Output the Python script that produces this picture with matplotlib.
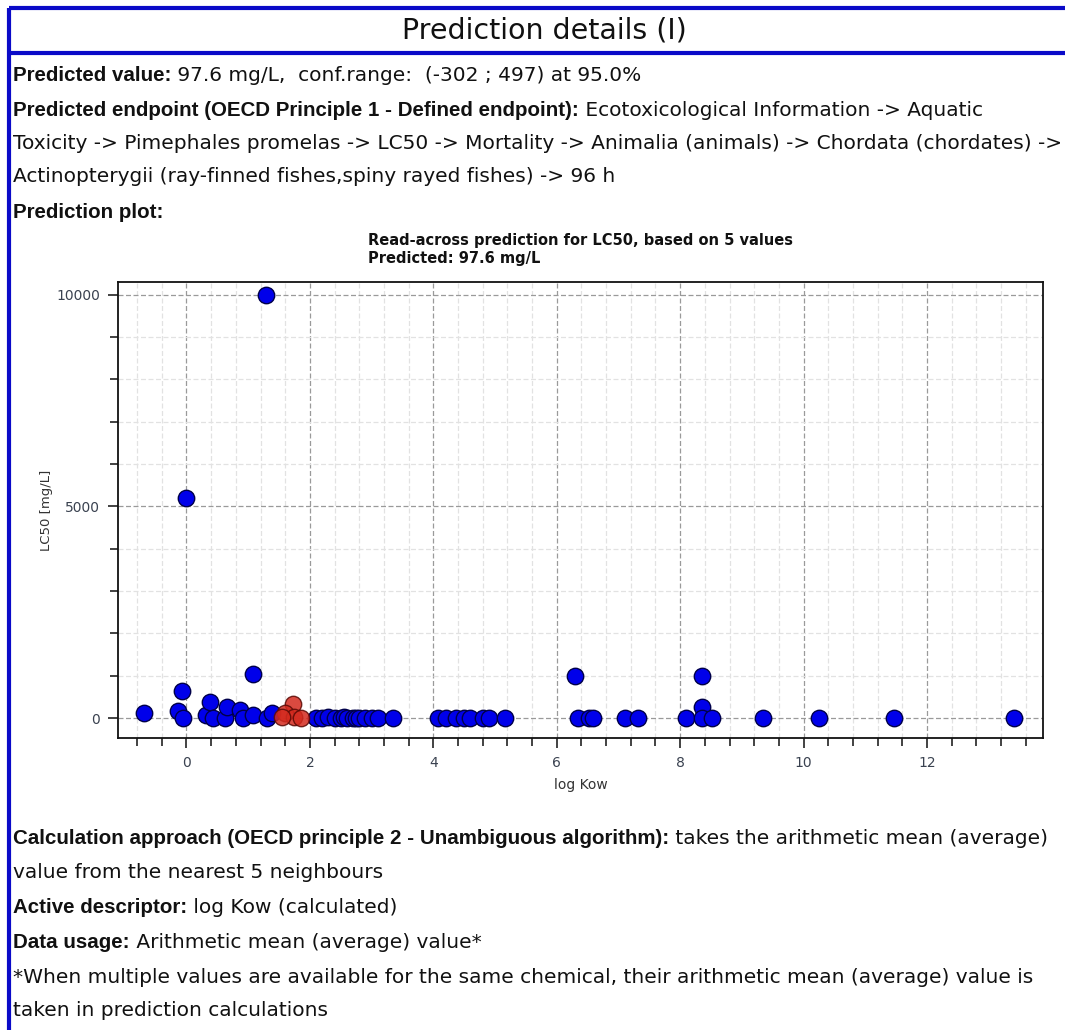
import matplotlib
matplotlib.use("Agg")
import matplotlib.pyplot as plt
from matplotlib.ticker import MultipleLocator

# ---- data: log Kow vs LC50 [mg/L] ----
blue_logkow = [-0.69, -0.14, -0.06, -0.08, 0.0, 0.31, 0.38, 0.43, 0.62, 0.65,
               0.86, 0.92, 1.07, 1.08, 1.29, 1.30, 1.38,
               2.10, 2.20, 2.30, 2.40, 2.50, 2.55, 2.60, 2.70, 2.75, 2.80, 2.90,
               3.00, 3.10, 3.35,
               4.08, 4.20, 4.37, 4.50, 4.59, 4.80, 4.90, 5.16,
               6.29, 6.35, 6.53, 6.59, 7.10, 7.32, 8.09, 8.36, 8.36, 8.36, 8.51,
               9.35, 10.25, 11.47, 13.41]
blue_lc50 = [111, 165, 0, 645, 5200, 70, 385, 0, 0, 267,
             190, 0, 1033, 70, 10000, 0, 125,
             10, 5, 20, 8, 3, 15, 6, 2, 12, 4, 9,
             3, 6, 5,
             4, 2, 6, 3, 5, 2, 4, 3,
             993, 2, 3, 1, 2, 1, 2, 993, 267, 5, 1,
             1, 1, 1, 1]

# nearest neighbours used for the read-across (mean = 97.6 mg/L)
red_logkow = [1.73, 1.60, 1.75, 1.55, 1.85]
red_lc50 = [330, 110, 25, 15, 8]

W, H = 1065, 1030
fig = plt.figure(figsize=(W / 100, H / 100), dpi=100)
fig.patch.set_facecolor("white")

page = fig.add_axes([0, 0, 1, 1])
page.set_xlim(0, W)
page.set_ylim(H, 0)
page.axis("off")

FONT = "DejaVu Sans"
BOLD_FONT = "Liberation Sans"
BLUE = "#0a0ac8"
INK = "#111111"

# page frame
page.plot([9, W], [8, 8], color=BLUE, lw=3, solid_capstyle="butt")
page.plot([9, W], [53, 53], color=BLUE, lw=3, solid_capstyle="butt")
page.plot([9, 9], [8, H], color=BLUE, lw=3, solid_capstyle="butt")
page.text(544, 31, "Prediction details (I)", ha="center", va="center",
          fontsize=20.5, family=FONT, color=INK)

fig.canvas.draw()
renderer = fig.canvas.get_renderer()


def rich_line(x, y, parts):
    """Draw a line of text made of (string, bold) parts on a shared baseline."""
    for s, bold in parts:
        if bold:
            t = page.text(x, y, s, ha="left", va="baseline", fontsize=14.8,
                          family=BOLD_FONT, fontweight="bold", color=INK)
        else:
            t = page.text(x, y, s, ha="left", va="baseline", fontsize=14.5,
                          family=FONT, color=INK)
        bb = t.get_window_extent(renderer)
        x = x + bb.width


rich_line(13, 81, [("Predicted value:", True),
                   (" 97.6 mg/L,  conf.range:  (-302 ; 497) at 95.0%", False)])
rich_line(13, 116, [("Predicted endpoint (OECD Principle 1 - Defined endpoint):", True),
                    (" Ecotoxicological Information -> Aquatic", False)])
rich_line(13, 149, [("Toxicity -> Pimephales promelas -> LC50 -> Mortality -> Animalia (animals) -> Chordata (chordates) ->", False)])
rich_line(13, 182, [("Actinopterygii (ray-finned fishes,spiny rayed fishes) -> 96 h", False)])
rich_line(13, 218, [("Prediction plot:", True)])

rich_line(13, 844, [("Calculation approach (OECD principle 2 - Unambiguous algorithm):", True),
                    (" takes the arithmetic mean (average)", False)])
rich_line(13, 878, [("value from the nearest 5 neighbours", False)])
rich_line(13, 913, [("Active descriptor:", True), (" log Kow (calculated)", False)])
rich_line(13, 948, [("Data usage:", True), (" Arithmetic mean (average) value*", False)])
rich_line(13, 983, [("*When multiple values are available for the same chemical, their arithmetic mean (average) value is", False)])
rich_line(13, 1016, [("taken in prediction calculations", False)])

# chart title
page.text(368, 245, "Read-across prediction for LC50, based on 5 values",
          ha="left", va="baseline", fontsize=10.5, fontweight="bold", family=FONT,
          color=INK)
page.text(368, 263, "Predicted: 97.6 mg/L", ha="left", va="baseline",
          fontsize=10.5, fontweight="bold", family=FONT, color=INK)

# ---- scatter plot ----
ax = fig.add_axes([118 / W, 1 - 738 / H, (1043 - 118) / W, (738 - 282) / H])
ax.set_xlim(-1.11, 13.88)
ax.set_ylim(-470, 10300)

ax.xaxis.set_major_locator(MultipleLocator(2))
ax.xaxis.set_minor_locator(MultipleLocator(0.4))
ax.yaxis.set_major_locator(MultipleLocator(5000))
ax.yaxis.set_minor_locator(MultipleLocator(1000))

ax.grid(which="minor", color="#e2e2e2", lw=0.9, ls=(0, (4, 2)))
ax.grid(which="major", color="#9a9a9a", lw=0.9, ls=(0, (4, 2)))
ax.set_axisbelow(True)

ax.tick_params(which="both", direction="out", colors="#222222",
               labelcolor="#3a4250", labelsize=10, width=1.2)
ax.tick_params(which="major", length=7, pad=6)
ax.tick_params(which="minor", length=6)
for sp in ax.spines.values():
    sp.set_color(INK)
    sp.set_linewidth(1.3)
for lab in ax.get_xticklabels() + ax.get_yticklabels():
    lab.set_family(FONT)

ax.scatter(blue_logkow, blue_lc50, s=140, c="#0000ea", edgecolors="#00004a",
           linewidths=1.0, zorder=3)
ax.scatter(red_logkow, red_lc50, s=140, c="#d42a1e", edgecolors="#5a0a05",
           linewidths=1.0, alpha=0.85, zorder=4)

ax.set_xlabel("log Kow", fontsize=10, family=FONT, color="#333333", labelpad=6)
ax.set_ylabel("LC50 [mg/L]", fontsize=9.5, family=FONT, color="#333333", labelpad=2)

fig.savefig("out.png", dpi=100, facecolor="white")
